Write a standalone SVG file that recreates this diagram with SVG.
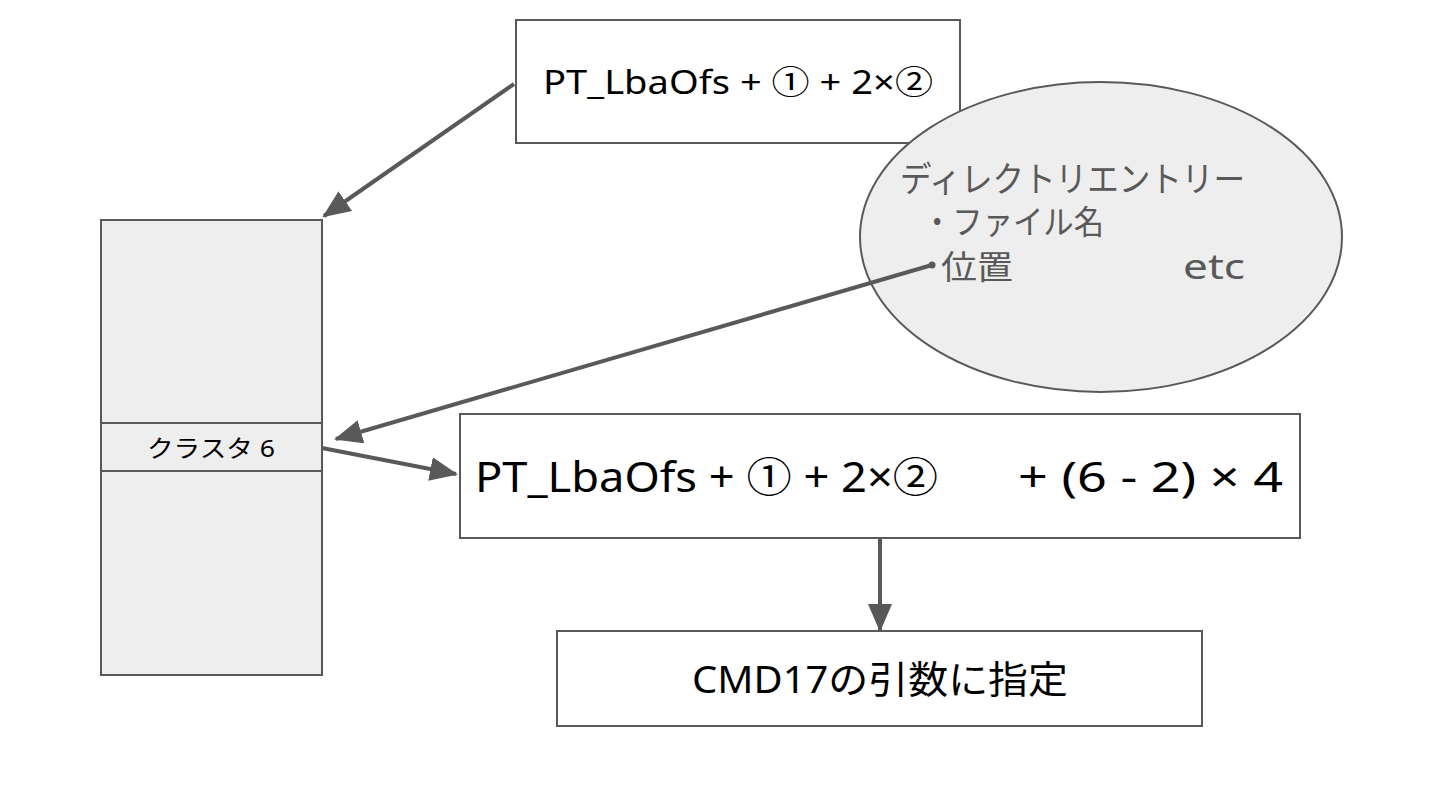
<svg xmlns="http://www.w3.org/2000/svg" width="1440" height="810" viewBox="0 0 1440 810">
<defs>
<marker id="ah" markerUnits="userSpaceOnUse" markerWidth="30" markerHeight="24" refX="26" refY="12" orient="auto">
<path d="M0,0 L28,12 L0,24 Z" fill="#595959"/>
</marker>
<style>
.box{fill:#ffffff;stroke:#595959;stroke-width:2}
.gbox{fill:#eeeeee;stroke:#595959;stroke-width:2}
.t{font-family:"Noto Sans","Noto Sans CJK JP",sans-serif;fill:#000000}
.g{font-family:"Noto Sans","Noto Sans CJK JP",sans-serif;fill:#595959}
.c{fill:none;stroke:#595959;stroke-width:4;marker-end:url(#ah)}
</style>
</defs>
<rect width="1440" height="810" fill="#ffffff"/>
<g id="top-box">
<rect class="box" x="516" y="20" width="444" height="123"/>
<text class="t" x="543" y="94" font-size="33" textLength="390" lengthAdjust="spacingAndGlyphs">PT_LbaOfs + ① + 2×②</text>
</g>
<g id="directory-entry">
<ellipse class="gbox" cx="1101" cy="237" rx="241" ry="155"/>
<text class="g" x="900" y="192" font-size="35" textLength="345" lengthAdjust="spacingAndGlyphs">ディレクトリエントリー</text>
<text class="g" x="922" y="234" font-size="33" textLength="182" lengthAdjust="spacingAndGlyphs">・ファイル名</text>
<text class="g" x="941" y="279" font-size="33" textLength="72" lengthAdjust="spacingAndGlyphs">位置</text>
<text class="g" x="1183" y="279" font-size="35" textLength="62" lengthAdjust="spacingAndGlyphs">etc</text>
</g>
<g id="cluster-column">
<rect class="gbox" x="101" y="220" width="221" height="455"/>
<line x1="101" y1="423" x2="322" y2="423" stroke="#595959" stroke-width="2"/>
<line x1="101" y1="471" x2="322" y2="471" stroke="#595959" stroke-width="2"/>
<text class="t" x="147" y="457" font-size="24" textLength="128" lengthAdjust="spacingAndGlyphs">クラスタ 6</text>
</g>
<g id="formula-box">
<rect class="box" x="460" y="414" width="840" height="124"/>
<text class="t" x="475" y="492" font-size="41" textLength="463" lengthAdjust="spacingAndGlyphs">PT_LbaOfs + ① + 2×②</text>
<text class="t" x="1018" y="492" font-size="41" textLength="265" lengthAdjust="spacingAndGlyphs">+ (6 - 2) × 4</text>
</g>
<g id="cmd17-box">
<rect class="box" x="557" y="631" width="645" height="95"/>
<text class="t" x="692" y="693" font-size="38" textLength="376" lengthAdjust="spacingAndGlyphs">CMD17の引数に指定</text>
</g>
<g id="connectors">
<line class="c" x1="514" y1="84" x2="324" y2="216"/>
<circle cx="932" cy="265" r="3.5" fill="#595959"/>
<line class="c" x1="932" y1="265" x2="336" y2="439"/>
<line class="c" x1="322" y1="448" x2="456" y2="474"/>
<line class="c" x1="880" y1="538" x2="880" y2="630"/>
</g>
</svg>
